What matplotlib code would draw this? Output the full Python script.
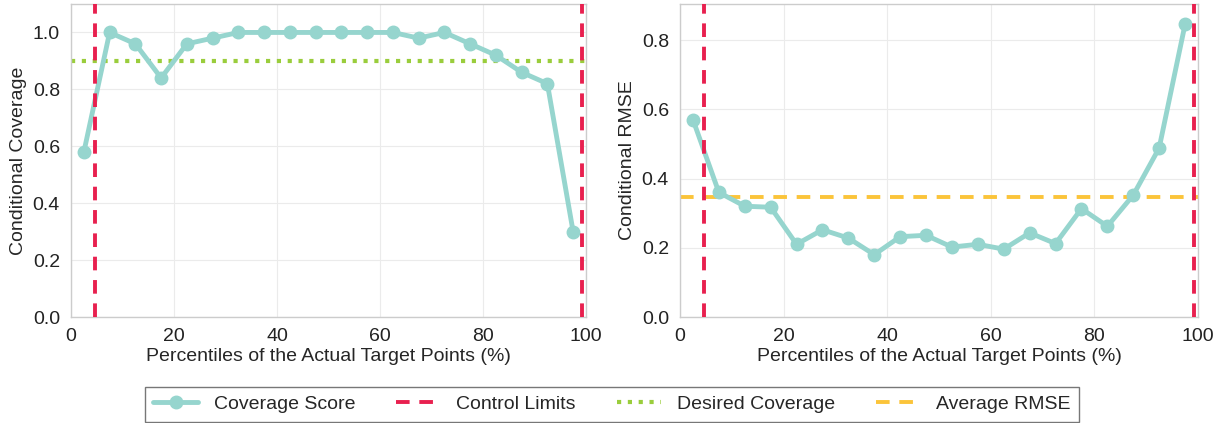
import matplotlib
matplotlib.use("Agg")
import matplotlib.pyplot as plt
import seaborn as sns

sns.set_theme(style="whitegrid")
plt.rcParams['font.family'] = ['Liberation Sans', 'DejaVu Sans']

percentiles = [2.5, 7.5, 12.5, 17.5, 22.5, 27.5, 32.5, 37.5, 42.5, 47.5,
               52.5, 57.5, 62.5, 67.5, 72.5, 77.5, 82.5, 87.5, 92.5, 97.5]
coverage = [0.58, 1.0, 0.96, 0.84, 0.96, 0.98, 1.0, 1.0, 1.0, 1.0,
            1.0, 1.0, 1.0, 0.98, 1.0, 0.96, 0.92, 0.86, 0.82, 0.30]
rmse = [0.57, 0.36, 0.32, 0.317, 0.21, 0.252, 0.228, 0.18, 0.232, 0.236,
        0.202, 0.21, 0.196, 0.243, 0.212, 0.313, 0.262, 0.352, 0.488, 0.845]
control_limits = [4.6, 99.3]
desired_coverage = 0.9
avg_rmse = 0.347

teal = "#96d5ce"
red = "#e8204f"
green = "#9acd3c"
orange = "#fbc43a"
fs = 14

fig = plt.figure(figsize=(12.24, 4.23), dpi=100)
ax1 = fig.add_axes([71/1224, 1-317/423, 515/1224, 313/423])
ax2 = fig.add_axes([680/1224, 1-317/423, 518/1224, 313/423])

for ax in (ax1, ax2):
    for s in ax.spines.values():
        s.set_color("#cccccc")
        s.set_linewidth(1.0)
    ax.grid(True, color="#ebebeb", linewidth=0.8)
    ax.tick_params(labelsize=fs, pad=2, colors="#222222")
    ax.set_xlim(0, 100)
    ax.set_xticks([0, 20, 40, 60, 80, 100])

l1, = ax1.plot(percentiles, coverage, color=teal, lw=3.5, marker='o', ms=9,
               label="Coverage Score", zorder=3)
for c in control_limits:
    lc = ax1.axvline(c, color=red, ls=(0, (3.5, 2.5)), lw=2.8, label="Control Limits", zorder=4)
lg = ax1.axhline(desired_coverage, color=green, ls=(0, (1, 1.6)), lw=3, label="Desired Coverage", zorder=2)
ax1.set_ylim(0, 1.1)
ax1.set_yticks([0, 0.2, 0.4, 0.6, 0.8, 1.0])
ax1.set_ylabel("Conditional Coverage", fontsize=fs, labelpad=4)
ax1.set_xlabel("Percentiles of the Actual Target Points (%)", fontsize=fs, labelpad=2)

ax2.plot(percentiles, rmse, color=teal, lw=3.5, marker='o', ms=9, zorder=3)
for c in control_limits:
    ax2.axvline(c, color=red, ls=(0, (3.5, 2.5)), lw=2.8, zorder=4)
lo = ax2.axhline(avg_rmse, color=orange, ls=(0, (3.5, 2.5)), lw=2.8, label="Average RMSE", zorder=2)
ax2.set_ylim(0, 0.904)
ax2.set_yticks([0, 0.2, 0.4, 0.6, 0.8])
ax2.set_ylabel("Conditional RMSE", fontsize=fs, labelpad=4)
ax2.set_xlabel("Percentiles of the Actual Target Points (%)", fontsize=fs, labelpad=2)

leg = fig.legend(handles=[l1, lc, lg, lo], loc="lower center", ncol=4,
                 bbox_to_anchor=(0.5, 0.003), borderaxespad=0, fontsize=fs, frameon=True,
                 handlelength=2.3, columnspacing=2.1, borderpad=0.45)
leg.get_frame().set_edgecolor("#555555")
leg.get_frame().set_linewidth(1.0)
leg.get_frame().set_boxstyle("square", pad=0)

fig.savefig("out.png", dpi=100)
